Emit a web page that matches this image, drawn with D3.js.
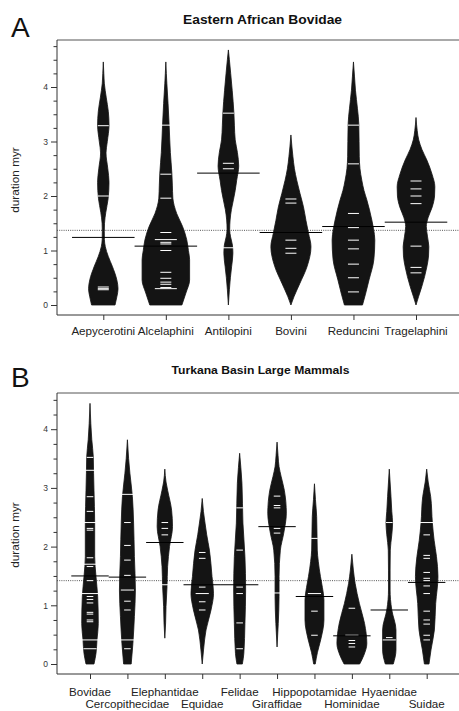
<!DOCTYPE html>
<html><head><meta charset="utf-8">
<script src="https://cdn.jsdelivr.net/npm/d3@7"></script>
<style>body{margin:0;background:#fff}text{font-family:"Liberation Sans",Arial,Helvetica,sans-serif}</style>
</head><body><svg id="c" width="459" height="711"></svg>
<script>
// ---------- Panel A data ----------
const categoriesA = ["Aepycerotini","Alcelaphini","Antilopini","Bovini","Reduncini","Tragelaphini"];
const meansA = [1.24, 1.08, 2.42, 1.33, 1.44, 1.52];
const overallMeanA = 1.37;
// density profiles: [duration, relative density]
const profileAepycerotini = [[0,11.7],[0.15,13.5],[0.3,14.7],[0.46,13.5],[0.71,9],[0.89,5],[1.07,2],[1.2,1.1],[1.35,1.0],[1.5,1.2],[1.7,2.5],[1.95,4.8],[2.25,5.7],[2.5,4.5],[2.79,2.7],[3.0,4],[3.3,5.7],[3.55,5],[3.8,3],[4.07,1],[4.25,0.5],[4.46,0]];
const profileAlcelaphini = [[0,16],[0.22,20],[0.46,23.7],[0.83,23.7],[1.0,22.5],[1.2,20.8],[1.44,16.7],[1.68,10.8],[1.96,7],[2.2,6.5],[2.42,6],[2.8,4.5],[3.29,3.3],[3.7,2.2],[4.07,1],[4.25,0.5],[4.46,0]];
const profileAntilopini = [[0,0],[0.28,1],[0.5,2],[0.7,3.2],[0.95,4.5],[1.1,4],[1.25,2.2],[1.38,1.3],[1.56,1.7],[1.75,3],[1.93,5],[2.1,6.8],[2.29,8.3],[2.55,10.3],[2.8,9],[3.03,6.8],[3.3,6],[3.52,5.5],[3.94,3.8],[4.25,2.3],[4.5,1],[4.68,0]];
const profileBovini = [[0,0],[0.15,3],[0.4,9],[0.7,16],[1.07,20],[1.32,17.5],[1.55,15],[1.8,12.5],[2.05,9],[2.29,5.8],[2.5,3.5],[2.72,2],[2.9,1],[3.12,0]];
const profileReduncini = [[0,9],[0.2,12],[0.46,15.5],[0.83,20.3],[1.19,21.3],[1.4,20],[1.56,18.3],[1.93,13.3],[2.1,10.5],[2.29,8.3],[2.5,6.5],[2.72,5.8],[3.0,5.6],[3.33,5.3],[3.6,4],[3.94,2],[4.2,1],[4.46,0]];
const profileTragelaphini = [[0,0],[0.15,2.5],[0.34,5.8],[0.7,10.8],[0.9,12.5],[1.07,12.8],[1.25,11.5],[1.44,10.3],[1.6,12],[1.8,16.2],[2.0,18.5],[2.17,18.8],[2.4,16],[2.66,10.8],[2.85,6],[3.03,2.7],[3.2,1.2],[3.44,0]];
const profilesA = [profileAepycerotini, profileAlcelaphini, profileAntilopini, profileBovini, profileReduncini, profileTragelaphini];
// individual durations (repeats = tied observations)
const ticksA = [
  [0.28, 0.30, 0.33, 2.0, 3.29],
  [0.3, 0.3, 0.32, 0.38, 0.42, 0.49, 0.6, 1.0, 1.12, 1.15, 1.2, 1.2, 1.33, 1.96, 2.4, 3.3],
  [1.05, 2.5, 2.6, 3.52],
  [0.95, 1.04, 1.19, 1.87, 1.945],
  [0.24, 0.5, 0.75, 1.03, 1.19, 1.42, 1.68, 2.59, 3.3],
  [0.59, 0.69, 1.08, 1.86, 2.0, 2.13, 2.275]
];

// ---------- Panel B data ----------
const categoriesB = ["Bovidae","Cercopithecidae","Elephantidae","Equidae","Felidae","Giraffidae","Hippopotamidae","Hominidae","Hyaenidae","Suidae"];
const meansB = [1.50, 1.48, 2.07, 1.35, 1.35, 2.34, 1.15, 0.48, 0.92, 1.39];
const overallMeanB = 1.42;
const profileBovidae = [[0,4],[0.18,6],[0.41,7],[0.69,8.3],[1.15,7.7],[1.49,6],[1.83,4.7],[2.4,4.7],[2.96,4],[3.25,3.6],[3.53,3.3],[3.82,1.8],[4.1,0.8],[4.44,0]];
const profileCercopithecidae = [[0,3.8],[0.35,5.5],[0.81,7],[1.26,8],[1.83,7],[2.4,6.2],[2.85,5],[3.25,2.5],[3.5,1.2],[3.82,0]];
const profileElephantidae = [[0.44,0],[0.7,0.8],[0.98,1.2],[1.32,2.2],[1.66,2.8],[2.0,4.7],[2.34,7.7],[2.62,6.8],[2.96,2.8],[3.1,1.2],[3.32,0]];
const profileEquidae = [[0,0],[0.24,1.3],[0.58,3.8],[0.92,8.8],[1.2,11.3],[1.49,9.8],[1.94,7.2],[2.2,4.5],[2.4,2.8],[2.6,1.2],[2.82,0]];
const profileFelidae = [[0,2.7],[0.18,4.2],[0.69,5.3],[1.26,6],[1.83,5.3],[2.4,3.3],[3.08,2.3],[3.35,1.2],[3.59,0]];
const profileGiraffidae = [[0.29,0],[0.69,1.2],[1.15,2],[1.49,2],[1.94,3.3],[2.23,6.7],[2.57,9.3],[2.96,7.3],[3.2,4],[3.36,2],[3.55,1],[3.78,0]];
const profileHippopotamidae = [[0,0.8],[0.2,3],[0.41,6.2],[0.75,9.5],[1.09,9.5],[1.3,8],[1.49,6],[1.75,3.8],[1.94,2.8],[2.25,2.5],[2.51,2.2],[2.8,1],[3.07,0]];
const profileHominidae = [[0,7.8],[0.15,12],[0.35,15],[0.69,12.7],[1.03,7.5],[1.37,3.3],[1.6,1.5],[1.87,0]];
const profileHyaenidae = [[0,4],[0.24,6.7],[0.58,6.7],[0.92,2.5],[1.1,1.2],[1.26,0.8],[1.6,0.8],[1.94,1],[2.2,2.5],[2.4,3.3],[2.6,2.5],[2.85,1.7],[3.1,0.8],[3.32,0]];
const profileSuidae = [[0,2.3],[0.24,4.3],[0.58,7.7],[1.03,9],[1.49,11.3],[1.83,9.8],[2.1,7.5],[2.4,5.7],[2.85,4],[3.1,1.5],[3.32,0]];
const profilesB = [profileBovidae, profileCercopithecidae, profileElephantidae, profileEquidae, profileFelidae, profileGiraffidae, profileHippopotamidae, profileHominidae, profileHyaenidae, profileSuidae];
const ticksB = [
  [0.26,0.26,0.41,0.41,0.41,0.72,0.75,0.85,0.88,1.04,1.1,1.15,1.2,1.2,1.2,1.42,1.66,1.70,1.70,1.81,2.28,2.31,2.41,2.41,2.6,2.85,3.30,3.30,3.30,3.52],
  [0.26,0.41,0.41,0.92,1.07,1.26,1.26,1.51,1.77,2.02,2.41,2.89,2.89],
  [1.35,2.2,2.31,2.41],
  [0.92,1.06,1.2,1.2,1.31,1.80,1.90],
  [0.26,0.70,1.2,1.31,1.94,2.66],
  [1.21,2.23,2.31,2.66,2.70,2.86],
  [0.49,0.90,1.2,1.2,2.14],
  [0.29,0.35,0.40,0.49,0.49,0.95],
  [0.41,0.41,0.45,2.41],
  [0.41,0.49,0.68,0.75,0.9,1.2,1.33,1.42,1.46,1.56,1.80,1.85,2.20,2.41,2.41]
];
const majorTicks = [0,1,2,3,4];

const svg = d3.select("#c");
const W = 459;

function panel(cfg){
  const g = svg.append("g");
  const L = cfg.left;
  const y = d3.scaleLinear().domain([0,4]).range([cfg.y0, cfg.y4]);
  const x = d3.scalePoint().domain(cfg.cats).range([cfg.xFirst, cfg.xLast]);
  const step = x.step();
  const maxD = d3.max(cfg.profiles.flat(), d => d[1]);
  const w = d3.scaleLinear().domain([0, maxD]).range([0, step*cfg.halfFrac]);

  // title & letter
  g.append("text").attr("x", cfg.titleX).attr("y", cfg.titleY).attr("text-anchor","middle")
    .attr("font-size", cfg.titleSize).attr("font-weight","bold").attr("fill","#111")
    .attr("textLength", cfg.titleLen).attr("lengthAdjust","spacingAndGlyphs").text(cfg.title);
  g.append("text").attr("x", 11).attr("y", cfg.letterY).attr("font-size", 28).attr("fill","#111").text(cfg.letter);

  // frame
  g.append("line").attr("x1", L).attr("x2", W).attr("y1", cfg.top).attr("y2", cfg.top).attr("stroke","#555");
  g.append("line").attr("x1", L).attr("x2", L).attr("y1", cfg.top).attr("y2", cfg.bottom).attr("stroke","#333");
  g.append("line").attr("x1", L).attr("x2", W).attr("y1", cfg.bottom).attr("y2", cfg.bottom).attr("stroke","#333");

  // y axis
  const minor = d3.range(0, cfg.minorMax + 0.001, 0.25).filter(v => v % 1 !== 0);
  const ya = g.append("g").attr("transform", `translate(${L},0)`)
    .call(d3.axisLeft(y).tickValues(majorTicks).tickSize(6).tickPadding(3).tickFormat(d3.format("d")));
  ya.select(".domain").remove();
  ya.selectAll("text").attr("font-size", 8.5).attr("fill","#333").attr("font-family","Liberation Sans, Arial, sans-serif");
  ya.selectAll("line").attr("stroke","#333");
  const ym = g.append("g").attr("transform", `translate(${L},0)`)
    .call(d3.axisLeft(y).tickValues(minor).tickSize(3.5).tickFormat(""));
  ym.select(".domain").remove();
  ym.selectAll("line").attr("stroke","#333");

  g.append("text").attr("transform", `translate(19,${cfg.ylabY}) rotate(-90)`).attr("text-anchor","middle")
    .attr("font-size", 11.8).attr("fill","#222").text("duration myr");

  // x axis
  const xa = g.append("g").attr("transform", `translate(0,${cfg.bottom})`)
    .call(d3.axisBottom(x).tickSize(5).tickFormat(""));
  xa.select(".domain").remove();
  xa.selectAll("line").attr("stroke","#333");
  cfg.cats.forEach((c,i) => {
    const off = cfg.twoRows ? (i % 2 === 0 ? 21.7 : 34.3) : 19.5;
    g.append("text").attr("x", x(c)).attr("y", cfg.bottom + off).attr("text-anchor","middle")
      .attr("font-size", 11.6).attr("fill","#222").text(c);
  });

  // overall mean dotted line
  g.append("line").attr("x1", L).attr("x2", W).attr("y1", y(cfg.overall)).attr("y2", y(cfg.overall))
    .attr("stroke","#444").attr("stroke-width",0.9).attr("stroke-dasharray","1,1.2");

  // beans
  cfg.cats.forEach((c,i) => {
    const cx = x(c);
    const prof = cfg.profiles[i].slice().sort((a,b) => b[0]-a[0]);
    const area = d3.area().y(d => y(d[0])).x0(d => cx - w(d[1])).x1(d => cx + w(d[1])).curve(d3.curveMonotoneY);
    g.append("path").attr("d", area(prof)).attr("fill","#141414").attr("stroke","#141414").attr("stroke-width",0.8);
    const counts = d3.rollups(cfg.ticks[i], v => v.length, d => d);
    counts.forEach(([v,n]) => {
      const len = step*0.176*n;
      g.append("line").attr("x1", cx-len/2).attr("x2", cx+len/2).attr("y1", y(v)).attr("y2", y(v))
        .attr("stroke","#fff").attr("stroke-width",1);
    });
    g.append("line").attr("x1", cx-step/2).attr("x2", cx+step/2).attr("y1", y(cfg.means[i])).attr("y2", y(cfg.means[i]))
      .attr("stroke","#000").attr("stroke-width",1);
  });
}

panel({cats: categoriesA, profiles: profilesA, ticks: ticksA, means: meansA, overall: overallMeanA,
  left: 57, top: 40, bottom: 315, y0: 305, y4: 87, xFirst: 103.3, xLast: 416, halfFrac: 0.38,
  minorMax: 4.75, title: "Eastern African Bovidae", titleX: 262.5, titleY: 24, titleSize: 12.6, titleLen: 159,
  letter: "A", letterY: 37, ylabY: 180, twoRows: false});

panel({cats: categoriesB, profiles: profilesB, ticks: ticksB, means: meansB, overall: overallMeanB,
  left: 57, top: 393, bottom: 674, y0: 664, y4: 429.2, xFirst: 90, xLast: 426.7, halfFrac: 0.40,
  minorMax: 4.5, title: "Turkana Basin Large Mammals", titleX: 260.5, titleY: 374.3, titleSize: 11, titleLen: 178,
  letter: "B", letterY: 387, ylabY: 535, twoRows: true});
</script></body></html>
